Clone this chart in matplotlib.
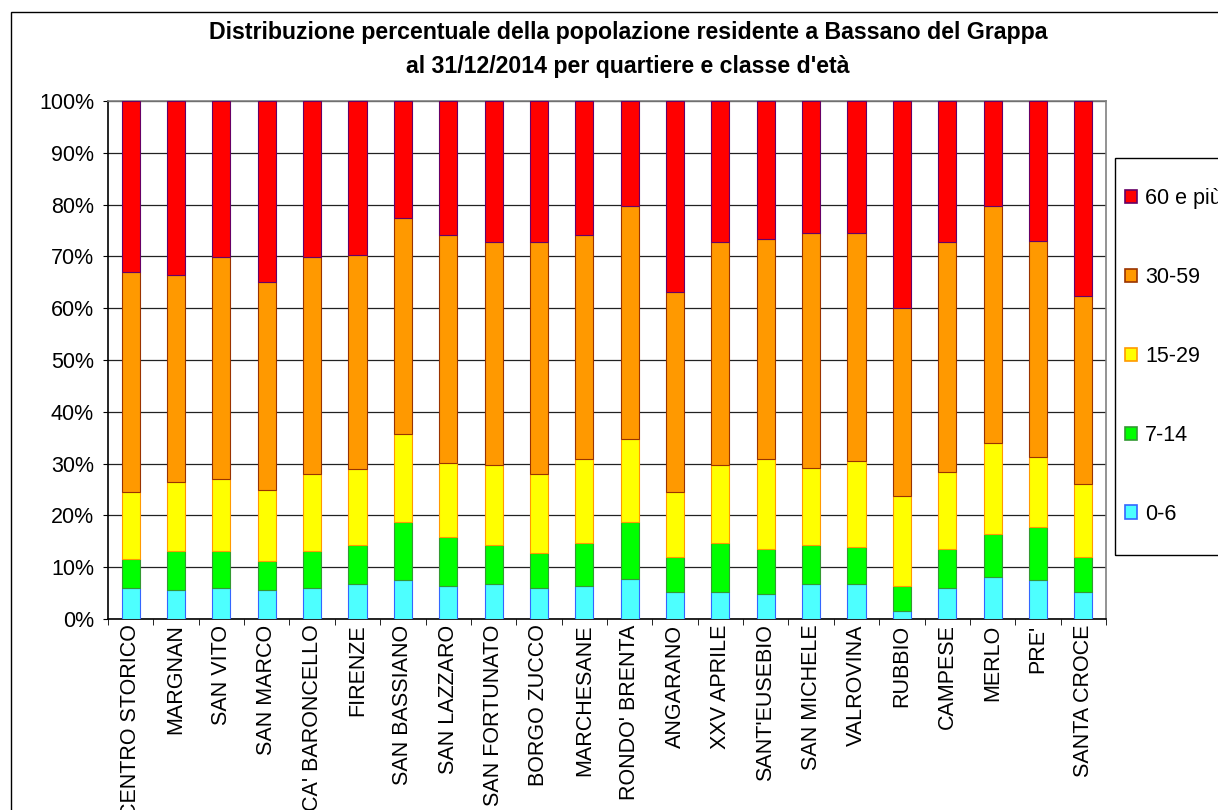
import matplotlib
matplotlib.use("Agg")
import matplotlib.pyplot as plt
from matplotlib.patches import Rectangle, Patch
from matplotlib.ticker import PercentFormatter, MultipleLocator
import numpy as np

plt.rcParams['font.family'] = ['Liberation Sans', 'DejaVu Sans']

quartieri = ["CENTRO STORICO", "MARGNAN", "SAN VITO", "SAN MARCO", "CA' BARONCELLO",
             "FIRENZE", "SAN BASSIANO", "SAN LAZZARO", "SAN FORTUNATO", "BORGO ZUCCO",
             "MARCHESANE", "RONDO' BRENTA", "ANGARANO", "XXV APRILE", "SANT'EUSEBIO",
             "SAN MICHELE", "VALROVINA", "RUBBIO", "CAMPESE", "MERLO", "PRE'", "SANTA CROCE"]

classi = ["0-6", "7-14", "15-29", "30-59", "60 e più"]

# cumulative tops (%)
top_0_6 = [5.9, 5.6, 6.0, 5.6, 6.0, 6.7, 7.5, 6.3, 6.7, 5.9, 6.3, 7.8, 5.2, 5.2, 4.8, 6.7, 6.7, 1.5, 5.9, 8.2, 7.5, 5.2]
top_7_14 = [11.5, 13.1, 13.1, 11.2, 13.1, 14.3, 18.8, 15.8, 14.3, 12.7, 14.6, 18.8, 12.0, 14.6, 13.5, 14.3, 13.9, 6.3, 13.5, 16.5, 17.7, 12.0]
top_15_29 = [24.5, 26.4, 27.1, 24.9, 27.9, 29.0, 35.8, 30.1, 29.8, 27.9, 30.9, 34.7, 24.5, 29.8, 30.9, 29.1, 30.5, 23.7, 28.3, 33.9, 31.3, 26.0]
top_30_59 = [67.0, 66.5, 69.9, 65.0, 69.9, 70.3, 77.5, 74.1, 72.7, 72.7, 74.1, 79.8, 63.1, 72.7, 73.3, 74.6, 74.6, 60.1, 72.7, 79.8, 73.0, 62.3]

tops = np.array([top_0_6, top_7_14, top_15_29, top_30_59, [100.0] * len(quartieri)])
bottoms = np.vstack([np.zeros(len(quartieri)), tops[:-1]])
values = tops - bottoms

face = ["#4DFFFF", "#00FF00", "#FFFF00", "#FF9900", "#FF0000"]
edge = ["#3366FF", "#339933", "#FF9900", "#993300", "#660066"]

W, H = 1218, 810
FS = 15.5
fig = plt.figure(figsize=(W / 100, H / 100), dpi=100)
fig.patch.set_facecolor("white")

# outer chart border
fig.add_artist(Rectangle((11 / W, -0.01), 1.02, 1 - 12 / H + 0.01, transform=fig.transFigure,
                         fill=False, edgecolor="black", linewidth=1.0))

ax = fig.add_axes([108 / W, 1 - 619 / H, (1106 - 108) / W, (619 - 101) / H])
x = np.arange(len(quartieri))
for i in range(5):
    ax.bar(x, values[i], bottom=bottoms[i], width=0.40, color=face[i], edgecolor=edge[i],
           linewidth=0.8, label=classi[i], zorder=3)

ax.set_xlim(-0.5, len(quartieri) - 0.5)
ax.set_ylim(0, 100)
ax.yaxis.set_major_locator(MultipleLocator(10))
ax.yaxis.set_major_formatter(PercentFormatter(decimals=0))
ax.grid(axis="y", color="#222222", linewidth=0.9, zorder=1)
ax.set_axisbelow(True)

ax.set_xticks(x)
ax.set_xticklabels(quartieri, rotation=90, fontsize=FS)
ax.set_xticks(np.arange(len(quartieri) + 1) - 0.5, minor=True)
ax.tick_params(axis="x", which="major", length=0, pad=4)
ax.tick_params(axis="x", which="minor", length=4, direction="out", color="black")
ax.tick_params(axis="y", which="major", length=3.5, direction="out", labelsize=FS, pad=6.5)

for s in ["left", "bottom"]:
    ax.spines[s].set_color("black")
    ax.spines[s].set_linewidth(1.2)
for s in ["top", "right"]:
    ax.spines[s].set_color("#808080")
    ax.spines[s].set_linewidth(1.2)

fig.text(628 / W, 1 - 33 / H, "Distribuzione percentuale della popolazione residente a Bassano del Grappa",
         ha="center", va="center", fontsize=16.7, fontweight="bold")
fig.text(628 / W, 1 - 66 / H, "al 31/12/2014 per quartiere e classe d'età",
         ha="center", va="center", fontsize=16.7, fontweight="bold")

# legend frame
fig.add_artist(Rectangle((1115 / W, 1 - 555 / H), 0.2, (555 - 158) / H, transform=fig.transFigure,
                         fill=False, edgecolor="black", linewidth=1.0))
handles = [Patch(facecolor=face[i], edgecolor=edge[i], linewidth=1.2) for i in range(5)][::-1]
leg = fig.legend(handles, classi[::-1], loc="upper left", bbox_to_anchor=(1125 / W, 1 - 188 / H),
                 fontsize=FS, frameon=False,
                 handlelength=0.56, handleheight=0.56, handletextpad=0.37,
                 labelspacing=2.69, borderpad=0, borderaxespad=0)

fig.savefig("out.png", dpi=100)
